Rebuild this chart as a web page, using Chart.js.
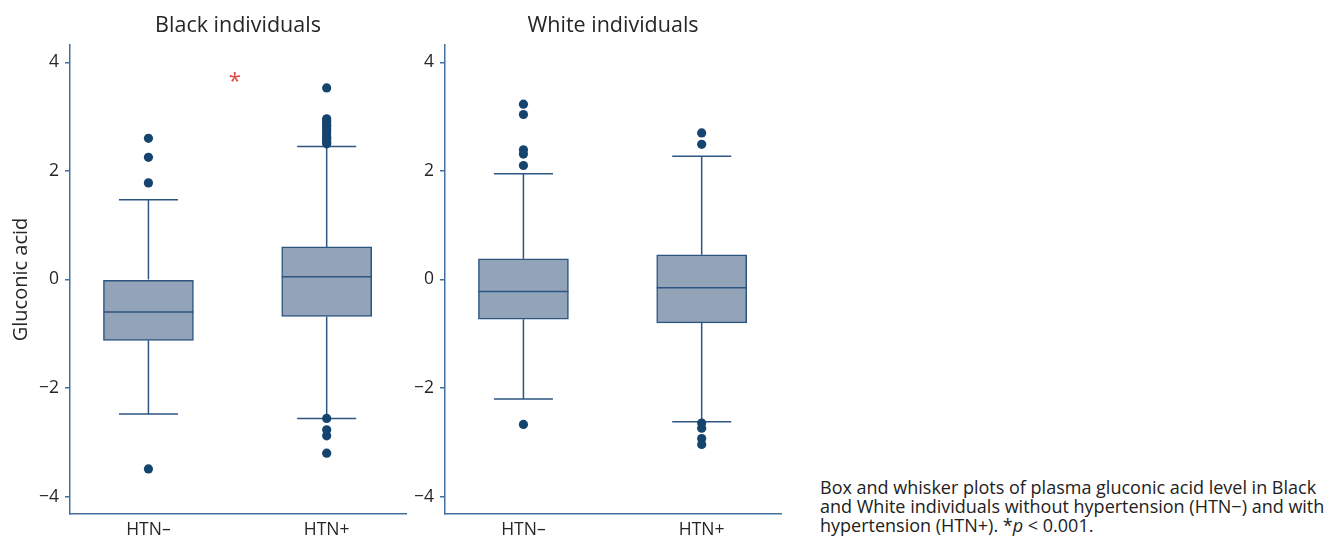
<!DOCTYPE html>
<html>
<head>
<meta charset="utf-8">
<script src="https://cdn.jsdelivr.net/npm/chart.js@4/dist/chart.umd.min.js"></script>
<style>
	html, body { margin: 0; padding: 0; background: #fff; }
	body { width: 1329px; height: 538px; position: relative; overflow: hidden; font-family: 'Open Sans', sans-serif; }
	.panel { position: absolute; top: 0; height: 538px; }
	#blackWrap { left: 0; width: 415px; }
	#whiteWrap { left: 415px; width: 375px; }
	.caption { position: absolute; left: 820px; top: 478px; font-size: 18px; line-height: 19px; color: #222; white-space: nowrap; }
</style>
</head>
<body>
<div class="panel" id="blackWrap"><canvas id="blackChart"></canvas></div>
<div class="panel" id="whiteWrap"><canvas id="whiteChart"></canvas></div>
<div class="caption">Box and whisker plots of plasma gluconic acid level in Black<br>and White individuals without hypertension (HTN−) and with<br>hypertension (HTN+). *<i>p</i> &lt; 0.001.</div>
<script>
const groups = ['HTN–', 'HTN+'];
const yTicks = [-4, -2, 0, 2, 4];

// Black individuals
const blackQ1 = [-1.12, -0.68];
const blackMedian = [-0.60, 0.05];
const blackQ3 = [0.00, 0.60];
const blackLow = [-2.48, -2.56];
const blackHigh = [1.47, 2.45];
const blackOutNeg = [2.60, 2.25, 1.78, -3.49];
const blackOutPos = [3.53, 2.96, 2.93, 2.89, 2.84, 2.81, 2.77, 2.72, 2.68, 2.63, 2.60, 2.57, 2.53, 2.50, -2.56, -2.77, -2.88, -3.20];

// White individuals
const whiteQ1 = [-0.73, -0.80];
const whiteMedian = [-0.22, -0.15];
const whiteQ3 = [0.38, 0.455];
const whiteLow = [-2.20, -2.62];
const whiteHigh = [1.95, 2.27];
const whiteOutNeg = [3.23, 3.04, 2.39, 2.31, 2.10, -2.67];
const whiteOutPos = [2.70, 2.49, -2.645, -2.74, -2.93, -3.04];

// significance mark between the Black groups
const starPos = [0.485, 3.72];

const axisColor = '#41709f';
const boxLine = '#2c5582';
const boxFill = '#93a4b8';
const dotColor = '#15446f';
const textColor = '#262626';
const font = "'Open Sans', sans-serif";

const whiskerPlugin = {
	id: 'whiskers',
	beforeDatasetsDraw(chart) {
		const o = chart.options.plugins.whiskers;
		const xs = chart.scales.x, ys = chart.scales.y;
		const ctx = chart.ctx;
		ctx.save();
		ctx.strokeStyle = boxLine;
		ctx.lineWidth = 1.5;
		o.low.forEach((lo, i) => {
			const x = xs.getPixelForValue(i);
			const capHalf = 29.5;
			[[lo, o.q1[i]], [o.high[i], o.q3[i]]].forEach(([end, edge]) => {
				const yEnd = ys.getPixelForValue(end);
				const yEdge = ys.getPixelForValue(edge);
				ctx.beginPath();
				ctx.moveTo(x, yEnd);
				ctx.lineTo(x, yEdge);
				ctx.moveTo(x - capHalf, yEnd);
				ctx.lineTo(x + capHalf, yEnd);
				ctx.stroke();
			});
		});
		ctx.restore();
	},
	afterDatasetsDraw(chart) {
		const o = chart.options.plugins.whiskers;
		const xs = chart.scales.x, ys = chart.scales.y;
		const ctx = chart.ctx;
		const area = chart.chartArea;
		ctx.save();
		ctx.strokeStyle = boxLine;
		ctx.lineWidth = 1.5;
		o.median.forEach((m, i) => {
			const x = xs.getPixelForValue(i);
			const y = ys.getPixelForValue(m);
			ctx.beginPath();
			ctx.moveTo(x - 45, y);
			ctx.lineTo(x + 45, y);
			ctx.stroke();
		});
		// panel title
		ctx.fillStyle = textColor;
		ctx.font = '21.5px ' + font;
		ctx.textAlign = 'center';
		ctx.textBaseline = 'middle';
		ctx.fillText(o.heading, (area.left + area.right) / 2, 26);
		if (o.yTitle) {
			ctx.save();
			ctx.font = '20px ' + font;
			ctx.translate(21, (area.top + area.bottom) / 2);
			ctx.rotate(-Math.PI / 2);
			ctx.fillText(o.yTitle, 0, 0);
			ctx.restore();
		}
		if (o.star) {
			ctx.fillStyle = '#e0473d';
			ctx.font = '22px ' + font;
			ctx.textBaseline = 'alphabetic';
			ctx.fillText('*', xs.getPixelForValue(o.star[0]), ys.getPixelForValue(o.star[1]) + 10);
		}
		ctx.restore();
	}
};

function makeChart(id, q1, median, q3, low, high, outNeg, outPos, extra) {
	const points = outNeg.map(v => ({ x: 0, y: v })).concat(outPos.map(v => ({ x: 1, y: v })));
	return new Chart(document.getElementById(id), {
		type: 'bar',
		data: {
			datasets: [
				{
					type: 'scatter',
					data: points,
					pointRadius: 4.6,
					pointBackgroundColor: dotColor,
					pointBorderWidth: 0,
					order: 0,
				},
				{
					data: q1.map((v, i) => ({ x: i, y: [v, q3[i]] })),
					backgroundColor: boxFill,
					borderColor: boxLine,
					borderWidth: 1.5,
					borderSkipped: false,
					barThickness: 90,
					order: 1,
				},
			],
		},
		plugins: [whiskerPlugin],
		options: {
			responsive: true,
			maintainAspectRatio: false,
			animation: false,
			layout: { padding: { top: 45, right: 9, left: 0, bottom: 0 } },
			scales: {
				x: {
					type: 'linear',
					offset: false,
					min: -0.44,
					max: 1.445,
					grid: { display: false, drawTicks: false },
					border: { display: true, color: axisColor, width: 1.5 },
					afterBuildTicks: s => { s.ticks = groups.map((g, i) => ({ value: i })); },
					afterFit: s => { s.height = 24; },
					ticks: {
						padding: 6,
						color: textColor,
						font: { family: font, size: 17.5 },
						callback: v => groups[v],
					},
				},
				y: {
					min: -4.32,
					max: 4.32,
					grid: { drawOnChartArea: false, drawTicks: true, tickLength: 5, color: axisColor, lineWidth: 1.5 },
					border: { display: true, color: axisColor, width: 1.5 },
					afterBuildTicks: s => { s.ticks = yTicks.map(v => ({ value: v })); },
					afterFit: s => { s.width = extra.axisWidth; },
					ticks: {
						padding: 6,
						color: textColor,
						font: { family: font, size: 17.5 },
						callback: v => (v < 0 ? '−' + Math.abs(v) : String(v)),
					},
				},
			},
			plugins: {
				legend: { display: false },
				tooltip: { enabled: false },
				whiskers: {
					q1: q1, median: median, q3: q3, low: low, high: high,
					heading: extra.heading, yTitle: extra.yTitle, star: extra.star,
				},
			},
		},
	});
}

makeChart('blackChart', blackQ1, blackMedian, blackQ3, blackLow, blackHigh, blackOutNeg, blackOutPos,
	{ axisWidth: 70, heading: 'Black individuals', yTitle: 'Gluconic acid', star: starPos });
makeChart('whiteChart', whiteQ1, whiteMedian, whiteQ3, whiteLow, whiteHigh, whiteOutNeg, whiteOutPos,
	{ axisWidth: 30, heading: 'White individuals' });
</script>
</body>
</html>
